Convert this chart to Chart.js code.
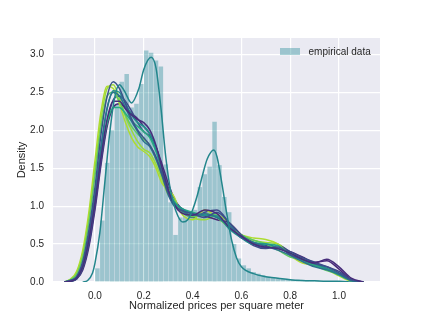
<!DOCTYPE html>
<html>
<head>
<meta charset="utf-8">
<script src="https://cdn.jsdelivr.net/npm/chart.js@4.4.0/dist/chart.umd.min.js"></script>
<style>
html,body{margin:0;padding:0;background:#ffffff;}
canvas{display:block;}
</style>
</head>
<body>
<canvas id="c" width="423" height="317"></canvas>
<script>
// ---- data ----
const binStarts = [0.00,0.02,0.04,0.06,0.08,0.10,0.12,0.14,0.16,0.18,0.20,0.22,0.24,0.26,0.28,0.30,0.32,0.34,0.36,0.38,0.40,0.42,0.44,0.46,0.48,0.50,0.52,0.54,0.56,0.58,0.60,0.62,0.64,0.66,0.68,0.70,0.72,0.74,0.76,0.78,0.80,0.82,0.84,0.86,0.88,0.90,0.92,0.94,0.96,0.98];
const binWidth = 0.02;
const histDensity = [0.18,0.81,1.57,2.0,2.35,2.64,2.74,2.3,2.35,2.61,3.05,3.02,2.92,2.84,1.55,1.05,0.62,0.85,0.88,0.9,0.95,1.25,1.42,1.52,2.11,1.54,1.12,0.92,0.5,0.31,0.22,0.18,0.13,0.11,0.09,0.07,0.06,0.05,0.04,0.04,0.03,0.03,0.02,0.02,0.02,0.02,0.01,0.01,0.01,0.01];

// empirical KDE
const kdeX = [-0.05,-0.03,-0.01,0.0,0.02,0.04,0.06,0.08,0.10,0.12,0.15,0.18,0.20,0.23,0.25,0.27,0.29,0.31,0.33,0.36,0.38,0.40,0.42,0.44,0.46,0.487,0.50,0.52,0.54,0.56,0.58,0.60,0.65,0.70,0.75,0.80,0.85,0.90,0.95,1.00,1.05];
const kdeY = [0,0.02,0.12,0.25,0.65,1.3,1.95,2.42,2.6,2.52,2.36,2.55,2.8,2.96,2.82,2.3,1.65,1.2,0.95,0.79,0.82,0.95,1.15,1.4,1.62,1.74,1.65,1.3,0.9,0.55,0.32,0.2,0.11,0.07,0.05,0.03,0.02,0.015,0.01,0.01,0];

// model sample densities on a shared grid
const gridX = [-0.125,-0.1,-0.075,-0.05,-0.025,0,0.025,0.05,0.075,0.1,0.125,0.15,0.175,0.2,0.225,0.25,0.275,0.3,0.325,0.35,0.4,0.45,0.5,0.55,0.6,0.65,0.7,0.75,0.8,0.85,0.9,0.95,1.0,1.05,1.1];
const sampleA = [0,0.01,0.05,0.2,0.55,1.05,1.65,2.15,2.38,2.38,2.28,2.2,2.14,2.1,2.0,1.8,1.5,1.22,1.02,0.92,0.88,0.95,0.9,0.72,0.6,0.5,0.46,0.44,0.38,0.3,0.25,0.3,0.2,0.05,0];
const sampleB = [0,0.02,0.07,0.27,0.68,1.25,1.95,2.45,2.64,2.55,2.35,2.15,2.0,1.9,1.8,1.65,1.42,1.18,1.02,0.95,0.9,0.85,0.92,0.78,0.62,0.5,0.45,0.46,0.36,0.3,0.24,0.2,0.12,0.03,0];
const sampleC = [0,0.02,0.06,0.24,0.62,1.15,1.8,2.3,2.5,2.45,2.3,2.12,1.98,1.85,1.78,1.62,1.4,1.15,1.0,0.95,0.88,0.9,0.85,0.75,0.58,0.52,0.47,0.42,0.35,0.27,0.2,0.16,0.1,0.02,0];
const sampleD = [0,0.01,0.05,0.2,0.56,1.1,1.75,2.28,2.52,2.5,2.35,2.2,2.1,2.05,1.95,1.75,1.45,1.2,1.05,0.98,0.9,0.88,0.87,0.7,0.58,0.5,0.5,0.45,0.38,0.3,0.24,0.18,0.11,0.02,0];
const sampleE = [0,0.02,0.07,0.25,0.62,1.12,1.7,2.1,2.3,2.3,2.22,2.12,2.05,1.98,1.9,1.72,1.48,1.22,1.05,0.98,0.92,0.88,0.85,0.72,0.6,0.52,0.5,0.48,0.36,0.28,0.22,0.17,0.09,0.02,0];
const sampleF = [0,0.03,0.1,0.33,0.78,1.4,2.05,2.45,2.5,2.38,2.2,2.05,1.95,1.88,1.8,1.62,1.4,1.2,1.08,0.95,0.86,0.9,0.88,0.72,0.62,0.55,0.5,0.42,0.33,0.3,0.22,0.15,0.1,0.02,0];
const sampleG = [0,0.04,0.14,0.42,0.92,1.6,2.25,2.58,2.55,2.35,2.1,1.9,1.78,1.72,1.65,1.5,1.3,1.22,1.12,0.92,0.82,0.95,0.85,0.72,0.62,0.58,0.56,0.5,0.35,0.25,0.22,0.16,0.08,0.01,0];
const sampleH = [0,0.01,0.04,0.18,0.5,1.0,1.6,2.1,2.4,2.45,2.38,2.25,2.1,1.98,1.92,1.78,1.5,1.25,1.05,0.95,0.85,0.92,0.95,0.78,0.6,0.48,0.44,0.48,0.4,0.32,0.26,0.2,0.14,0.03,0];
const sampleI = [0,0.01,0.04,0.16,0.46,0.95,1.55,2.05,2.3,2.35,2.3,2.22,2.15,2.05,1.95,1.78,1.55,1.3,1.1,0.98,0.9,0.87,0.82,0.78,0.62,0.52,0.48,0.44,0.4,0.33,0.26,0.28,0.17,0.03,0];
const sampleJ = [0,0.03,0.12,0.38,0.85,1.5,2.15,2.55,2.6,2.42,2.18,2.0,1.85,1.75,1.7,1.55,1.35,1.15,1.05,0.98,0.85,0.82,0.88,0.78,0.62,0.55,0.52,0.5,0.38,0.28,0.22,0.18,0.1,0.02,0];

const xTicks = [0.0,0.2,0.4,0.6,0.8,1.0];
const yTicks = [0.0,0.5,1.0,1.5,2.0,2.5,3.0];
const legendLabel = 'empirical data';
const xTitle = 'Normalized prices per square meter';
const yTitle = 'Density';

// ---- build ----
const HIST_COLOR = 'rgba(40,140,152,0.40)';
const samples = [
  [sampleA,'#472d7b'],[sampleB,'#3b528b'],[sampleC,'#2c728e'],[sampleD,'#21918c'],
  [sampleE,'#28ae80'],[sampleF,'#5ec962'],[sampleG,'#addc30'],[sampleH,'#3e4a89'],
  [sampleI,'#482878'],[sampleJ,'#9bd93c']
];
const toPts = (xs, ys) => xs.map((x,i)=>({x:x, y:ys[i]}));

const datasets = [];
datasets.push({
  type:'bar', label: legendLabel,
  data: binStarts.map((s,i)=>({x: s + binWidth/2, y: histDensity[i]})),
  backgroundColor:HIST_COLOR, borderWidth:0,
  barPercentage:0.92, categoryPercentage:1.0, order:100
});
samples.forEach(([ys,col],i)=>{
  datasets.push({type:'line', label:'s'+i, data: toPts(gridX, ys), borderColor: col, borderWidth:1.5,
    pointRadius:0, fill:false, cubicInterpolationMode:'monotone', order: 2+i});
});
datasets.push({type:'line', label:'kde', data: toPts(kdeX, kdeY), borderColor:'#23868c', borderWidth:1.5,
  pointRadius:0, fill:false, cubicInterpolationMode:'monotone', order:1});

const FONT = "'Liberation Sans', Arial, sans-serif";

const bgPlugin = {
  id:'bg',
  beforeDraw(chart){
    const {ctx, chartArea:a} = chart;
    ctx.save(); ctx.fillStyle='#eaeaf2'; ctx.fillRect(a.left,a.top,a.right-a.left,a.bottom-a.top); ctx.restore();
  }
};
const legendPlugin = {
  id:'miniLegend',
  afterDraw(chart){
    const {ctx, chartArea:a} = chart;
    const bx = a.right - 100, by = a.top + 10;
    ctx.save();
    ctx.fillStyle = HIST_COLOR;
    ctx.fillRect(bx, by, 20, 7);
    ctx.fillStyle = '#262626';
    ctx.font = "10px " + FONT;
    ctx.textBaseline = 'middle';
    ctx.textAlign = 'left';
    ctx.fillText(legendLabel, bx + 28.5, by + 3.8);
    ctx.restore();
  }
};

new Chart(document.getElementById('c'), {
  type:'bar',
  data:{datasets},
  plugins:[bgPlugin, legendPlugin],
  options:{
    responsive:false, animation:false, devicePixelRatio:1,
    layout:{padding:{left:0,right:43,top:38,bottom:0}},
    plugins:{
      tooltip:{enabled:false},
      legend:{display:false}
    },
    scales:{
      x:{type:'linear', min:-0.172, max:1.168, offset:false,
        afterBuildTicks:(s)=>{s.ticks = xTicks.map(v=>({value:v}));},
        afterFit:(s)=>{s.height = 35;},
        grid:{color:'#ffffff', lineWidth:1.2, drawTicks:false, offset:false},
        border:{display:false},
        ticks:{padding:8, color:'#262626', font:{family:FONT,size:10}, callback:(v)=>Number(v).toFixed(1), maxRotation:0},
        title:{display:true, text:xTitle, color:'#262626', font:{family:FONT,size:11}, padding:{top:0,bottom:4}}
      },
      y:{type:'linear', min:0, max:3.215,
        afterBuildTicks:(s)=>{s.ticks = yTicks.map(v=>({value:v}));},
        afterFit:(s)=>{s.width = 53;},
        grid:{color:'#ffffff', lineWidth:1.2, drawTicks:false},
        border:{display:false},
        ticks:{padding:9, color:'#262626', font:{family:FONT,size:10}, callback:(v)=>Number(v).toFixed(1)},
        title:{display:true, text:yTitle, color:'#262626', font:{family:FONT,size:11}, padding:{top:15,bottom:0}}
      }
    }
  }
});
</script>
</body>
</html>
